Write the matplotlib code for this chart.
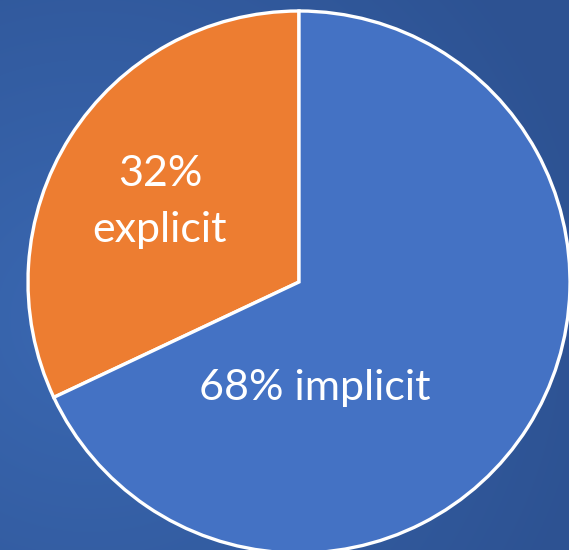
import numpy as np
import matplotlib
matplotlib.use("Agg")
import matplotlib.pyplot as plt

labels = ["explicit", "implicit"]
shares = [32, 68]
colors = ["#ED7D31", "#4472C4"]

W, H = 569, 550
fig = plt.figure(figsize=(W / 100, H / 100), dpi=100)
ax = fig.add_axes([0, 0, 1, 1])

# background: soft radial blue gradient
yy, xx = np.mgrid[0:H, 0:W]
d = np.sqrt((xx - 90) ** 2 + (yy - 230) ** 2) / 520.0
d = np.clip(d, 0, 1)
c_in = np.array([58, 104, 178]) / 255
c_out = np.array([45, 82, 146]) / 255
bg = c_in[None, None, :] * (1 - d[..., None]) + c_out[None, None, :] * d[..., None]
ax.imshow(bg, extent=(0, W, H, 0), zorder=0, interpolation="bilinear")

cx, cy, r = 299, 268, 271
ax.pie(shares, colors=colors, startangle=90, counterclock=True,
       center=(cx, cy), radius=r, frame=True,
       wedgeprops=dict(edgecolor="white", linewidth=2.4))
ax.set_xlim(0, W)
ax.set_ylim(0, H)
ax.set_aspect("equal")
ax.axis("off")

font = dict(family=["Lato", "DejaVu Sans"], color="white", fontsize=31,
            ha="center", va="baseline")
ax.text(cx - 139, cy + 96, f"{shares[0]}%", **font)
ax.text(cx - 139, cy + 40, labels[0], **font)
ax.text(cx + 16, cy - 118, f"{shares[1]}% {labels[1]}", **font)

fig.savefig("out.png", dpi=100)
